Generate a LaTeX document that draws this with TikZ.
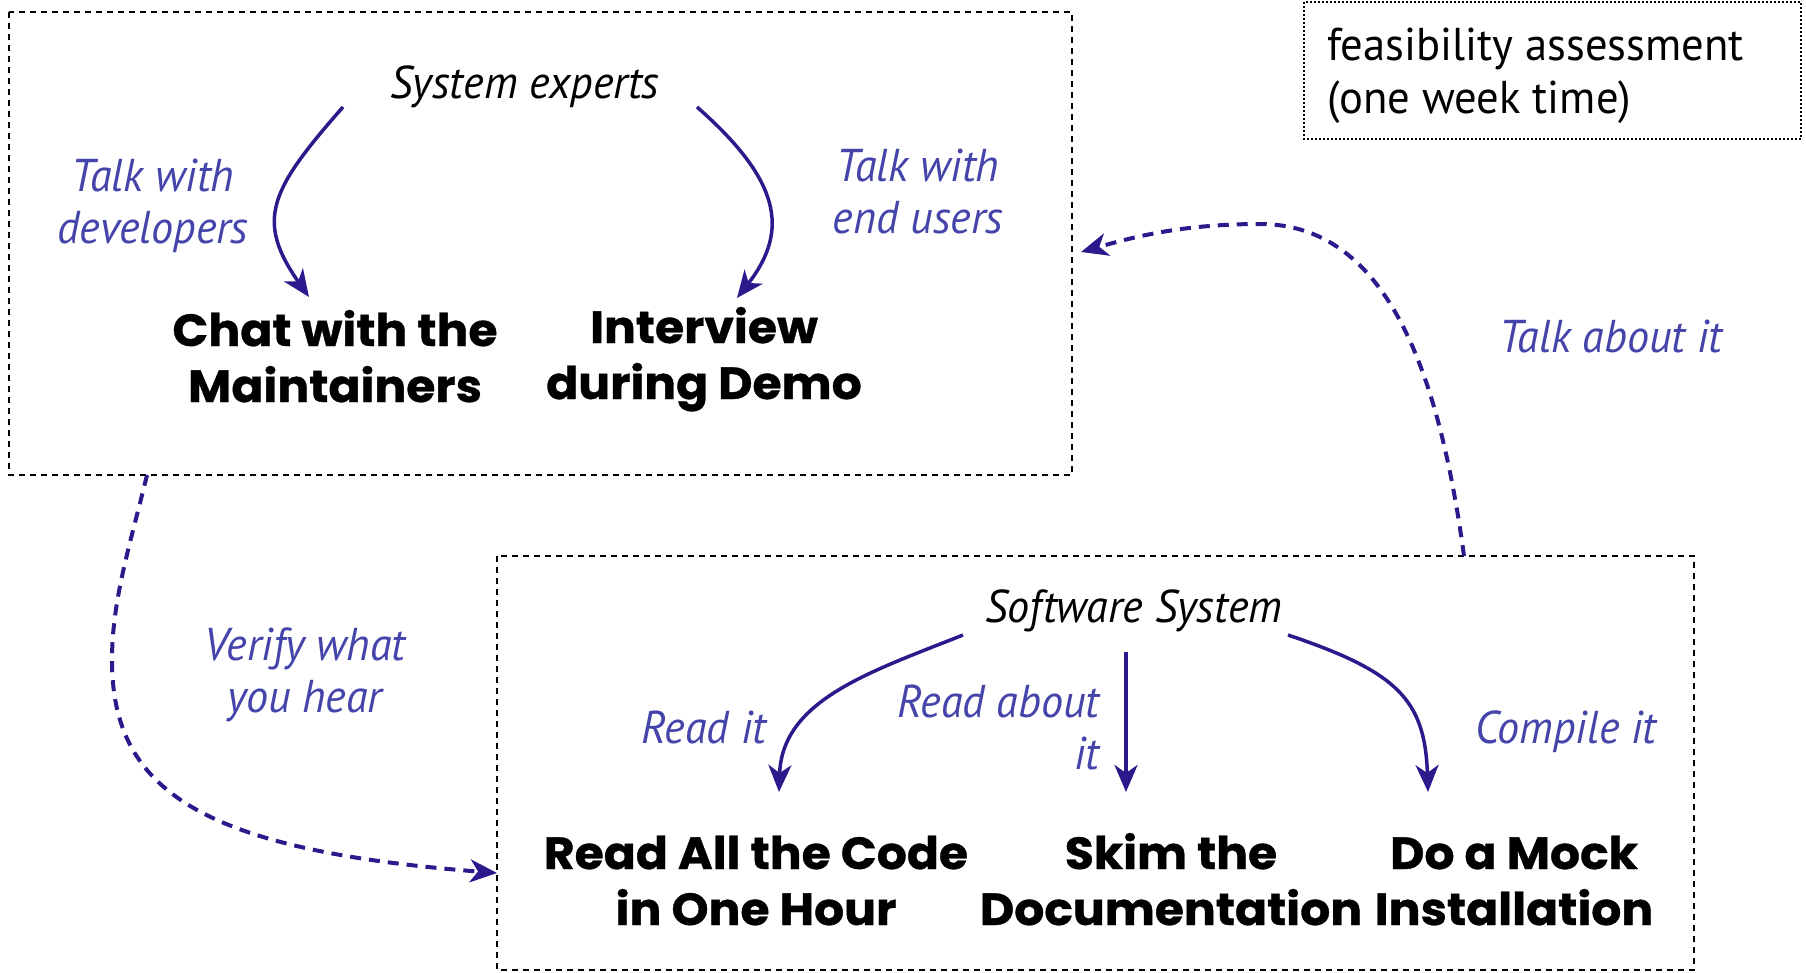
\documentclass[tikz,border=0pt]{standalone}
\usepackage{fontspec}
\setmainfont{PT Sans}[FakeStretch=0.97]
\newfontfamily\labfont{PT Sans}[FakeStretch=0.96]
\newfontfamily\taskfont{Poppins}[FakeStretch=1.05,FakeBold=0.8]
\usetikzlibrary{arrows.meta}
\definecolor{labc}{RGB}{68,68,170}
\definecolor{arrc}{RGB}{42,26,140}
\tikzset{
  lbl/.style={font=\labfont\itshape\fontsize{46}{52}\selectfont, text=labc, inner sep=0pt, align=center},
  ttl/.style={font=\labfont\itshape\fontsize{46}{52}\selectfont, text=black, inner sep=0pt},
  task/.style={font=\taskfont\bfseries\fontsize{45}{56}\selectfont, text=black, inner sep=0pt, align=center},
  arr/.style={draw=arrc, line width=3.5pt, -{Stealth[length=27pt,width=23pt,inset=8pt]}},
  darr/.style={arr, line width=4pt, dash pattern=on 11pt off 8pt},
  grp/.style={draw=black, line width=1.8pt, dash pattern=on 6pt off 5pt},
  note/.style={draw=black, line width=2pt, dash pattern=on 2pt off 2pt},
}
\begin{document}
\begin{tikzpicture}[x=1pt,y=-1pt]
\useasboundingbox (0,0) rectangle (1806,972);
% group boxes
\draw[grp] (9,12) rectangle (1072,475);
\draw[grp] (497,556) rectangle (1694,970);
\draw[note] (1304,2) rectangle (1801,139);
\node[anchor=base west, inner sep=0pt, align=left, font=\fontsize{46}{53}\selectfont] (feas) at (1327,113) {feasibility assessment\\(one week time)};

% top group
\node[ttl, anchor=base] (sysexp) at (525,98) {System experts};
\node[task, anchor=base] (chat) at (335,402) {Chat with the\\Maintainers};
\node[task, anchor=base] (interview) at (704,399) {Interview\\during Demo};
\node[lbl, anchor=base] (talkdev) at (153,243) {Talk with\\developers};
\node[lbl, anchor=base] (talkend) at (918,233) {Talk with\\end users};

\coordinate (se1) at (343,107);
\coordinate (se2) at (697,107);
\coordinate (ch1) at (309,297);
\coordinate (in1) at (737,298);
\draw[arr] (se1) .. controls (270,190) and (255,220) .. (ch1);
\draw[arr] (se2) .. controls (780,180) and (790,230) .. (in1);

% bottom group
\node[ttl, anchor=base] (softsys) at (1134,622) {Software System};
\node[task, anchor=base] (readcode) at (756,925) {Read All the Code\\in One Hour};
\node[task, anchor=base] (skim) at (1171,925) {Skim the\\Documentation};
\node[task, anchor=base] (mock) at (1514,925) {Do a Mock\\Installation};
\node[lbl, anchor=base] (readit) at (704,743) {Read it};
\node[lbl, anchor=base east, align=right] (readabout) at (1100,769) {Read about\\it};
\node[lbl, anchor=base] (compile) at (1566,743) {Compile it};

\coordinate (ss1) at (963,635);
\coordinate (ss2) at (1126,652);
\coordinate (ss3) at (1288,635);
\coordinate (rc1) at (779,792);
\coordinate (sk1) at (1126,792);
\coordinate (mk1) at (1428,792);
\draw[arr] (ss1) .. controls (870,672) and (782,700) .. (rc1);
\draw[arr] (ss2) -- (sk1);
\draw[arr] (ss3) .. controls (1398,672) and (1425,700) .. (mk1);

% cross-group dashed connectors
\node[lbl, anchor=base] (verify) at (305,712) {Verify what\\you hear};
\node[lbl, anchor=base] (talkabout) at (1611,352) {Talk about it};
\coordinate (b1s) at (147,475);
\coordinate (vmid) at (112,660);
\coordinate (b2w) at (497,873);
\draw[darr] (b1s) .. controls (130,545) and (112,600) .. (vmid)
  .. controls (112,790) and (200,850) .. (b2w);
\coordinate (b2n) at (1464,556);
\coordinate (tmid) at (1260,224);
\coordinate (b1e) at (1081,252);
\draw[darr] (b2n) .. controls (1440,380) and (1390,224) .. (tmid)
  .. controls (1180,224) and (1130,238) .. (b1e);
\end{tikzpicture}
\end{document}
